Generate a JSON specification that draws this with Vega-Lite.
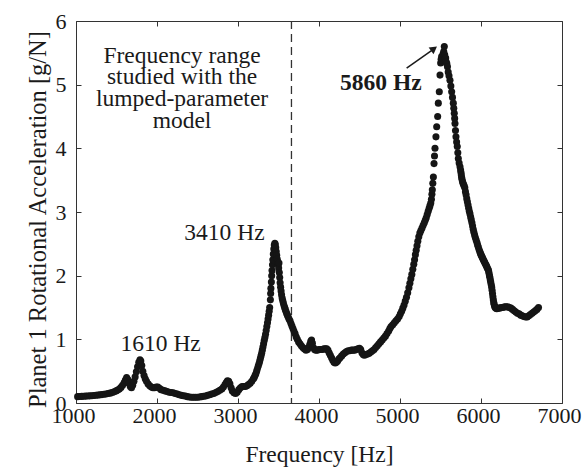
{
 "$schema": "https://vega.github.io/schema/vega-lite/v6.json",
 "width": 486, "height": 382,
 "autosize": "none",
 "padding": {"left": 76, "top": 21, "right": 20, "bottom": 66},
 "background": "white",
 "config": {
  "view": {"stroke": "#333333", "strokeWidth": 1},
  "font": "Liberation Serif",
  "axis": {"labelFont": "Liberation Serif", "titleFont": "Liberation Serif", "labelFontSize": 22, "titleFontSize": 23.5, "titleFontWeight": "normal", "labelColor": "#1a1a1a", "titleColor": "#1a1a1a", "domain": false, "tickColor": "#333333", "tickSize": -5, "grid": false, "labelFlush": false, "format": "d"}
 },
 "datasets": {
  "curve": [
   {"f":1020,"v":0.100},{"f":1045,"v":0.102},{"f":1070,"v":0.104},{"f":1095,"v":0.106},{"f":1120,"v":0.108},{"f":1145,"v":0.110},{"f":1170,"v":0.112},{"f":1195,"v":0.115},{"f":1220,"v":0.118},{"f":1245,"v":0.121},{"f":1270,"v":0.124},{"f":1295,"v":0.128},{"f":1320,"v":0.132},{"f":1345,"v":0.137},{"f":1370,"v":0.142},{"f":1395,"v":0.148},{"f":1420,"v":0.155},{"f":1445,"v":0.163},{"f":1470,"v":0.175},{"f":1495,"v":0.19},{"f":1515,"v":0.205},{"f":1535,"v":0.22},{"f":1555,"v":0.245},{"f":1575,"v":0.28},{"f":1595,"v":0.32},{"f":1610,"v":0.36},{"f":1625,"v":0.40},{"f":1640,"v":0.37},{"f":1655,"v":0.31},{"f":1670,"v":0.26},{"f":1685,"v":0.24},{"f":1700,"v":0.28},{"f":1715,"v":0.34},{"f":1730,"v":0.41},{"f":1745,"v":0.49},{"f":1760,"v":0.57},{"f":1775,"v":0.64},{"f":1790,"v":0.68},{"f":1800,"v":0.66},{"f":1812,"v":0.59},{"f":1825,"v":0.50},{"f":1840,"v":0.43},{"f":1855,"v":0.38},{"f":1870,"v":0.34},{"f":1890,"v":0.30},{"f":1910,"v":0.27},{"f":1930,"v":0.25},{"f":1950,"v":0.24},{"f":1970,"v":0.24},{"f":1990,"v":0.25},{"f":2010,"v":0.25},{"f":2030,"v":0.23},{"f":2050,"v":0.21},{"f":2075,"v":0.20},{"f":2100,"v":0.19},{"f":2125,"v":0.18},{"f":2150,"v":0.17},{"f":2175,"v":0.165},{"f":2200,"v":0.16},{"f":2225,"v":0.15},{"f":2250,"v":0.14},{"f":2275,"v":0.13},{"f":2300,"v":0.12},{"f":2325,"v":0.115},{"f":2350,"v":0.11},{"f":2375,"v":0.10},{"f":2400,"v":0.095},{"f":2425,"v":0.09},{"f":2450,"v":0.09},{"f":2475,"v":0.09},{"f":2500,"v":0.09},{"f":2525,"v":0.095},{"f":2550,"v":0.10},{"f":2575,"v":0.105},{"f":2600,"v":0.11},{"f":2625,"v":0.12},{"f":2650,"v":0.13},{"f":2675,"v":0.14},{"f":2700,"v":0.15},{"f":2725,"v":0.165},{"f":2750,"v":0.18},{"f":2775,"v":0.20},{"f":2800,"v":0.22},{"f":2820,"v":0.25},{"f":2840,"v":0.29},{"f":2855,"v":0.32},{"f":2870,"v":0.35},{"f":2885,"v":0.34},{"f":2900,"v":0.30},{"f":2915,"v":0.24},{"f":2930,"v":0.19},{"f":2950,"v":0.16},{"f":2970,"v":0.15},{"f":2990,"v":0.17},{"f":3010,"v":0.21},{"f":3030,"v":0.24},{"f":3050,"v":0.26},{"f":3070,"v":0.26},{"f":3090,"v":0.26},{"f":3110,"v":0.27},{"f":3130,"v":0.29},{"f":3150,"v":0.31},{"f":3170,"v":0.34},{"f":3190,"v":0.38},{"f":3200,"v":0.40},{"f":3210,"v":0.43},{"f":3220,"v":0.46},{"f":3230,"v":0.50},{"f":3240,"v":0.54},{"f":3250,"v":0.58},{"f":3260,"v":0.62},{"f":3268,"v":0.66},{"f":3276,"v":0.70},{"f":3284,"v":0.74},{"f":3292,"v":0.78},{"f":3300,"v":0.83},{"f":3308,"v":0.88},{"f":3316,"v":0.93},{"f":3324,"v":0.98},{"f":3332,"v":1.03},{"f":3340,"v":1.08},{"f":3348,"v":1.14},{"f":3356,"v":1.20},{"f":3364,"v":1.26},{"f":3371,"v":1.32},{"f":3378,"v":1.38},{"f":3385,"v":1.44},{"f":3391,"v":1.50},
   {"f":3400,"v":1.62},{"f":3403,"v":1.72},{"f":3406,"v":1.80},{"f":3412,"v":1.90},{"f":3416,"v":2.00},{"f":3420,"v":2.08},{"f":3426,"v":2.17},{"f":3430,"v":2.25},{"f":3436,"v":2.34},{"f":3442,"v":2.42},{"f":3448,"v":2.48},{"f":3455,"v":2.51},{"f":3460,"v":2.49},
   {"f":3466,"v":2.44},{"f":3472,"v":2.38},{"f":3478,"v":2.32},{"f":3484,"v":2.26},{"f":3490,"v":2.22},{"f":3496,"v":2.18},{"f":3502,"v":2.12},{"f":3506,"v":2.20},{"f":3510,"v":2.05},{"f":3515,"v":1.97},{"f":3520,"v":1.89},{"f":3526,"v":1.82},{"f":3532,"v":1.76},{"f":3538,"v":1.70},{"f":3545,"v":1.65},{"f":3552,"v":1.61},{"f":3560,"v":1.57},{"f":3568,"v":1.53},{"f":3576,"v":1.50},{"f":3584,"v":1.47},{"f":3592,"v":1.44},{"f":3600,"v":1.41},{"f":3610,"v":1.38},{"f":3620,"v":1.35},{"f":3630,"v":1.32},{"f":3642,"v":1.29},{"f":3654,"v":1.25},{"f":3666,"v":1.21},{"f":3678,"v":1.17},{"f":3690,"v":1.13},{"f":3704,"v":1.09},{"f":3718,"v":1.04},{"f":3732,"v":1.00},{"f":3748,"v":0.96},{"f":3765,"v":0.93},{"f":3782,"v":0.90},{"f":3800,"v":0.87},{"f":3820,"v":0.85},{"f":3840,"v":0.83},{"f":3858,"v":0.84},{"f":3872,"v":0.87},{"f":3886,"v":0.92},{"f":3898,"v":0.97},{"f":3908,"v":0.99},{"f":3918,"v":0.94},{"f":3930,"v":0.87},{"f":3945,"v":0.84},{"f":3960,"v":0.83},{"f":3980,"v":0.83},{"f":4000,"v":0.84},{"f":4020,"v":0.84},{"f":4040,"v":0.84},{"f":4060,"v":0.85},{"f":4080,"v":0.85},{"f":4095,"v":0.85},{"f":4110,"v":0.83},{"f":4125,"v":0.79},{"f":4140,"v":0.75},{"f":4155,"v":0.71},{"f":4170,"v":0.67},{"f":4185,"v":0.64},{"f":4200,"v":0.63},{"f":4215,"v":0.64},{"f":4230,"v":0.66},{"f":4245,"v":0.69},{"f":4260,"v":0.71},{"f":4280,"v":0.74},{"f":4300,"v":0.77},{"f":4320,"v":0.79},{"f":4340,"v":0.81},{"f":4360,"v":0.82},{"f":4380,"v":0.82},{"f":4400,"v":0.83},{"f":4420,"v":0.83},{"f":4440,"v":0.83},{"f":4460,"v":0.84},{"f":4480,"v":0.85},{"f":4500,"v":0.86},{"f":4515,"v":0.84},{"f":4530,"v":0.79},{"f":4545,"v":0.76},{"f":4560,"v":0.75},{"f":4580,"v":0.76},{"f":4600,"v":0.77},{"f":4620,"v":0.78},{"f":4640,"v":0.80},{"f":4660,"v":0.82},{"f":4680,"v":0.84},{"f":4700,"v":0.87},{"f":4720,"v":0.90},{"f":4740,"v":0.93},{"f":4760,"v":0.96},{"f":4780,"v":0.99},{"f":4800,"v":1.02},{"f":4820,"v":1.05},{"f":4840,"v":1.09},{"f":4860,"v":1.13},{"f":4875,"v":1.17},{"f":4890,"v":1.20},{"f":4910,"v":1.23},{"f":4930,"v":1.26},{"f":4950,"v":1.29},{"f":4970,"v":1.32},{"f":4990,"v":1.36},{"f":5005,"v":1.40},{"f":5020,"v":1.44},{"f":5035,"v":1.49},{"f":5050,"v":1.54},{"f":5065,"v":1.60},{"f":5080,"v":1.66},{"f":5095,"v":1.73},{"f":5110,"v":1.81},{"f":5122,"v":1.88},{"f":5134,"v":1.95},{"f":5146,"v":2.02},{"f":5158,"v":2.10},{"f":5170,"v":2.18},{"f":5180,"v":2.25},{"f":5190,"v":2.33},{"f":5200,"v":2.40},{"f":5210,"v":2.47},{"f":5220,"v":2.54},{"f":5232,"v":2.61},{"f":5245,"v":2.67},{"f":5258,"v":2.71},{"f":5272,"v":2.75},{"f":5286,"v":2.79},{"f":5300,"v":2.83},{"f":5312,"v":2.87},{"f":5324,"v":2.91},{"f":5336,"v":2.96},{"f":5348,"v":3.01},{"f":5360,"v":3.06},{"f":5370,"v":3.10},{"f":5380,"v":3.14},{"f":5388,"v":3.20},{"f":5394,"v":3.28},
   {"f":5399,"v":3.35},{"f":5405,"v":3.45},{"f":5412,"v":3.55},{"f":5420,"v":3.76},{"f":5426,"v":3.88},{"f":5432,"v":4.00},{"f":5444,"v":4.18},{"f":5453,"v":4.34},{"f":5465,"v":4.50},{"f":5473,"v":4.71},{"f":5485,"v":4.89},{"f":5494,"v":5.15},{"f":5502,"v":5.34},{"f":5508,"v":5.40},{"f":5514,"v":5.44},{"f":5520,"v":5.38},{"f":5526,"v":5.42},{"f":5532,"v":5.48},{"f":5540,"v":5.52},{"f":5547,"v":5.60},{"f":5552,"v":5.47},{"f":5558,"v":5.40},{"f":5564,"v":5.42},{"f":5570,"v":5.36},{"f":5578,"v":5.33},{"f":5586,"v":5.28},{"f":5595,"v":5.20},{"f":5605,"v":5.14},{"f":5617,"v":5.07},{"f":5628,"v":4.98},{"f":5638,"v":4.89},{"f":5648,"v":4.80},{"f":5658,"v":4.71},{"f":5664,"v":4.63},{"f":5670,"v":4.55},{"f":5675,"v":4.47},{"f":5679,"v":4.39},{"f":5685,"v":4.28},{"f":5691,"v":4.18},{"f":5699,"v":4.10},{"f":5707,"v":4.03},{"f":5714,"v":3.93},{"f":5720,"v":3.84},{"f":5730,"v":3.77},{"f":5741,"v":3.71},{"f":5748,"v":3.66},{"f":5753,"v":3.62},{"f":5757,"v":3.58},{"f":5761,"v":3.54},{"f":5766,"v":3.51},{"f":5772,"v":3.48},{"f":5778,"v":3.45},{"f":5785,"v":3.43},{"f":5792,"v":3.41},{"f":5800,"v":3.38},{"f":5808,"v":3.32},{"f":5816,"v":3.27},{"f":5824,"v":3.21},{"f":5832,"v":3.16},{"f":5840,"v":3.11},{"f":5848,"v":3.06},{"f":5856,"v":3.01},{"f":5864,"v":2.97},{"f":5872,"v":2.92},{"f":5880,"v":2.88},{"f":5888,"v":2.83},{"f":5896,"v":2.78},{"f":5904,"v":2.73},{"f":5912,"v":2.68},{"f":5921,"v":2.64},{"f":5930,"v":2.60},{"f":5940,"v":2.56},{"f":5950,"v":2.52},{"f":5958,"v":2.48},{"f":5967,"v":2.45},{"f":5976,"v":2.41},{"f":5985,"v":2.38},{"f":5993,"v":2.35},{"f":6000,"v":2.33},{"f":6008,"v":2.31},{"f":6015,"v":2.29},{"f":6022,"v":2.27},{"f":6029,"v":2.25},{"f":6037,"v":2.23},{"f":6045,"v":2.21},{"f":6052,"v":2.19},{"f":6060,"v":2.17},{"f":6068,"v":2.15},{"f":6075,"v":2.13},{"f":6083,"v":2.11},{"f":6091,"v":2.09},{"f":6096,"v":2.06},{"f":6100,"v":2.03},{"f":6105,"v":2.00},{"f":6110,"v":1.97},{"f":6115,"v":1.93},{"f":6120,"v":1.90},{"f":6126,"v":1.86},{"f":6132,"v":1.82},{"f":6137,"v":1.77},{"f":6142,"v":1.72},{"f":6147,"v":1.67},{"f":6152,"v":1.62},{"f":6157,"v":1.58},{"f":6162,"v":1.55},{"f":6168,"v":1.52},{"f":6175,"v":1.50},{"f":6185,"v":1.49},{"f":6195,"v":1.48},{"f":6210,"v":1.49},{"f":6230,"v":1.49},{"f":6250,"v":1.50},{"f":6270,"v":1.50},{"f":6290,"v":1.51},{"f":6310,"v":1.51},{"f":6330,"v":1.51},{"f":6350,"v":1.50},{"f":6370,"v":1.49},{"f":6390,"v":1.47},{"f":6410,"v":1.45},{"f":6430,"v":1.43},{"f":6450,"v":1.41},{"f":6470,"v":1.40},{"f":6490,"v":1.38},{"f":6510,"v":1.37},{"f":6530,"v":1.36},{"f":6550,"v":1.35},{"f":6570,"v":1.35},{"f":6590,"v":1.37},{"f":6610,"v":1.39},{"f":6630,"v":1.41},{"f":6650,"v":1.43},{"f":6670,"v":1.45},{"f":6690,"v":1.47},{"f":6710,"v":1.50}
  ],
  "vline": [{"f": 3660}],
  "arrow": [{"f": 5082, "v": 5.26, "f2": 5415, "v2": 5.56}],
  "head": [{"f": 5420, "v": 5.565}],
  "block": [{"f": 2309, "v": 5.345, "t": "Frequency range\nstudied with the\nlumped-parameter\nmodel"}],
  "notes": [
   {"f": 2045, "v": 0.82, "t": "1610 Hz"},
   {"f": 2833, "v": 2.56, "t": "3410 Hz"}
  ],
  "bold": [{"f": 4763, "v": 4.92, "t": "5860 Hz"}]
 },
 "layer": [
  {
   "data": {"name": "vline"},
   "mark": {"type": "rule", "color": "#333333", "strokeWidth": 1.3, "strokeDash": [8, 5]},
   "encoding": {
    "x": {"field": "f", "type": "quantitative", "scale": {"domain": [1000, 7000], "nice": false, "zero": false}, "axis": {"orient": "top", "labels": false, "title": null, "values": [1000, 2000, 3000, 4000, 5000, 6000, 7000]}}
   }
  },
  {
   "data": {"name": "curve"},
   "mark": {"type": "point", "filled": true, "size": 50, "color": "#151515", "opacity": 1, "strokeWidth": 0},
   "encoding": {
    "x": {"field": "f", "type": "quantitative", "scale": {"domain": [1000, 7000], "nice": false, "zero": false}, "axis": {"orient": "bottom", "title": "Frequency [Hz]", "values": [1000, 2000, 3000, 4000, 5000, 6000, 7000], "labelPadding": 7, "labelOffset": -3, "titlePadding": 16}},
    "y": {"field": "v", "type": "quantitative", "scale": {"domain": [0, 6], "nice": false, "zero": false}, "axis": {"orient": "left", "title": "Planet 1 Rotational Acceleration [g/N]", "titleFontSize": 24.5, "titleY": 198, "values": [0, 1, 2, 3, 4, 5, 6], "labelPadding": 15, "titlePadding": 5}}
   }
  },
  {
   "data": {"name": "arrow"},
   "mark": {"type": "rule", "color": "#1a1a1a", "strokeWidth": 1.5},
   "encoding": {
    "x": {"field": "f", "type": "quantitative", "scale": {"domain": [1000, 7000], "nice": false, "zero": false}, "axis": null},
    "x2": {"field": "f2"},
    "y": {"field": "v", "type": "quantitative", "scale": {"domain": [0, 6], "nice": false, "zero": false}, "axis": {"orient": "right", "labels": false, "title": null, "values": [0, 1, 2, 3, 4, 5, 6]}},
    "y2": {"field": "v2"}
   }
  },
  {
   "data": {"name": "head"},
   "mark": {"type": "point", "shape": "triangle-up", "filled": true, "size": 70, "angle": 54, "color": "#1a1a1a", "opacity": 1, "strokeWidth": 0},
   "encoding": {
    "x": {"field": "f", "type": "quantitative", "axis": null},
    "y": {"field": "v", "type": "quantitative", "axis": null}
   }
  },
  {
   "data": {"name": "block"},
   "mark": {"type": "text", "font": "Liberation Serif", "fontSize": 23.5, "align": "center", "baseline": "alphabetic", "lineBreak": "\n", "lineHeight": 21.7, "color": "#1a1a1a"},
   "encoding": {
    "x": {"field": "f", "type": "quantitative", "axis": null},
    "y": {"field": "v", "type": "quantitative", "axis": null},
    "text": {"field": "t"}
   }
  },
  {
   "data": {"name": "notes"},
   "mark": {"type": "text", "font": "Liberation Serif", "fontSize": 23.5, "align": "center", "baseline": "alphabetic", "color": "#1a1a1a"},
   "encoding": {
    "x": {"field": "f", "type": "quantitative", "axis": null},
    "y": {"field": "v", "type": "quantitative", "axis": null},
    "text": {"field": "t"}
   }
  },
  {
   "data": {"name": "bold"},
   "mark": {"type": "text", "font": "Liberation Serif", "fontSize": 23.5, "fontWeight": "bold", "align": "center", "baseline": "alphabetic", "color": "#1a1a1a"},
   "encoding": {
    "x": {"field": "f", "type": "quantitative", "axis": null},
    "y": {"field": "v", "type": "quantitative", "axis": null},
    "text": {"field": "t"}
   }
  }
 ],
 "resolve": {"axis": {"x": "independent", "y": "independent"}}
}
